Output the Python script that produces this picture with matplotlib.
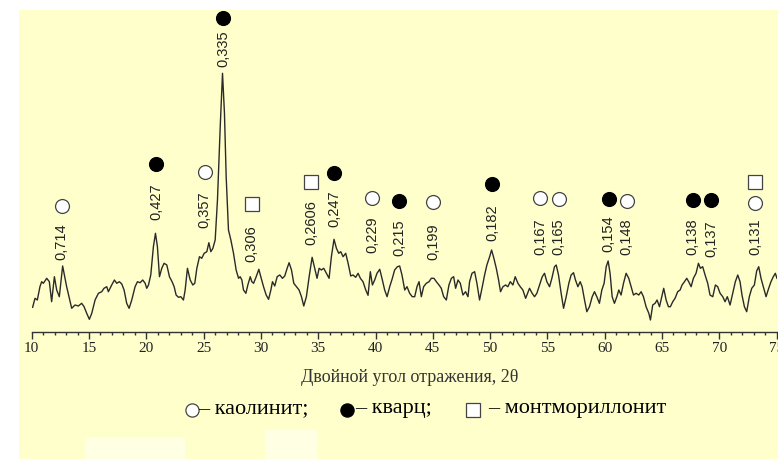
import matplotlib.pyplot as plt
import matplotlib.ticker as tik
from matplotlib.patches import Rectangle
from matplotlib.lines import Line2D

#### data: diffractogram (2theta, relative intensity)
two_theta = [10.08, 10.29, 10.49, 10.72, 10.87, 11.02, 11.31, 11.54, 11.74, 11.98,
             12.18, 12.41, 12.70, 13.05, 13.49, 13.78, 14.07, 14.36, 14.57, 14.80,
             15.03, 15.24, 15.53, 15.82, 16.11, 16.31, 16.55, 16.69, 16.98, 17.22,
             17.42, 17.65, 17.86, 18.06, 18.29, 18.50, 18.73, 19.02, 19.23, 19.46,
             19.69, 19.90, 20.04, 20.19, 20.39, 20.62, 20.80, 20.97, 21.15, 21.35,
             21.55, 21.79, 22.02, 22.25, 22.43, 22.60, 22.81, 23.01, 23.24, 23.39,
             23.59, 23.83, 24.06, 24.23, 24.41, 24.64, 24.84, 25.05, 25.28, 25.46,
             25.63, 25.81, 26.01, 26.21, 26.45, 26.65, 26.82, 26.97, 27.17, 27.38,
             27.61, 27.84, 28.05, 28.19, 28.34, 28.48, 28.69, 28.86, 29.07, 29.21,
             29.36, 29.59, 29.82, 29.99, 30.23, 30.46, 30.67, 30.87,
             31.01, 31.21, 31.42, 31.65, 31.88, 32.08, 32.29, 32.46, 32.67, 32.87,
             33.10, 33.33, 33.54, 33.74, 33.97, 34.21, 34.47, 34.70, 34.90, 35.08,
             35.28, 35.48, 35.72, 35.95, 36.15, 36.38, 36.59, 36.79, 36.97, 37.17,
             37.40, 37.61, 37.84, 38.04, 38.27, 38.48, 38.68, 38.91, 39.15, 39.35,
             39.55, 39.73, 39.93, 40.13, 40.37, 40.60, 40.80, 41.01, 41.24, 41.47,
             41.67, 41.91, 42.11, 42.31, 42.55, 42.75, 42.98, 43.21, 43.42, 43.62,
             43.80, 44.00, 44.20, 44.43, 44.67, 44.87, 45.10, 45.31, 45.54, 45.74,
             45.95, 46.18, 46.41, 46.62, 46.82, 46.99, 47.20, 47.40, 47.63, 47.86,
             48.07, 48.21, 48.42, 48.65, 48.85, 49.08, 49.32, 49.52, 49.72, 49.96,
             50.13, 50.33, 50.54, 50.74, 50.91, 51.12, 51.35, 51.55, 51.76, 51.99,
             52.19, 52.43, 52.63, 52.86, 53.10,
             53.44, 53.67, 53.88, 54.08, 54.31, 54.55, 54.75, 54.95, 55.19, 55.39,
             55.62, 55.77, 55.97, 56.20, 56.41, 56.64, 56.87, 57.07, 57.28, 57.45,
             57.66, 57.86, 58.03, 58.24, 58.44, 58.67, 58.91, 59.11, 59.31, 59.54,
             59.75, 59.95, 60.13, 60.30, 60.47, 60.65, 60.85, 61.06, 61.23, 61.43,
             61.64, 61.87, 62.10, 62.31, 62.51, 62.74, 62.97, 63.18, 63.38, 63.61,
             63.85, 63.99, 64.19, 64.40, 64.57, 64.78, 64.98, 65.15, 65.36, 65.56,
             65.73, 65.94, 66.14, 66.37, 66.58, 66.75, 66.96, 67.16, 67.33, 67.54,
             67.74, 67.97, 68.18, 68.35, 68.55, 68.76, 68.99, 69.19, 69.43, 69.66,
             69.86, 70.07, 70.30, 70.50, 70.70, 70.94, 71.17, 71.40, 71.61, 71.81,
             71.98, 72.19, 72.39, 72.62, 72.83, 73.06, 73.26, 73.44, 73.64, 73.84,
             74.08, 74.31, 74.51, 74.71, 74.89, 75.03]
intensity = [24.7, 33.7, 32, 45.3, 50.3, 48.7, 53.7, 50.3, 30.3, 55.3,
             42, 35.3, 66, 45.3, 23.7, 27, 26, 28.7, 25.3, 18.7,
             12.7, 18.7, 32, 38.7, 40.3, 43.7, 45.3, 40.3, 47, 52,
             48.7, 50.3, 48, 42, 28.7, 23.7, 32, 45.3, 50.3, 49.3,
             52, 48.7, 43.7, 47, 57, 85.3, 98.7, 85.3, 55.3, 63.7,
             68.7, 67, 55.3, 50.3, 45.3, 37, 34.7, 35.3, 32, 42,
             63.7, 52, 47, 48.7, 63.7, 75.3, 73.7, 78.7, 80.3, 89.3,
             80.3, 83.7, 92, 132, 205.3, 258.7, 218.7, 155.3, 102, 92,
             78.7, 62, 53.7, 55.3, 52, 42, 38.7, 47, 55.3, 50.3,
             48.7, 55.3, 62.7, 55.3, 45.3, 37, 32.7, 42,
             50.3, 46, 55.3, 57, 53.7, 56, 63.7, 69.3, 62, 48.7,
             45.3, 42, 35.3, 26, 35.3, 55.3, 74.7, 63.7, 53.7, 63.7,
             62, 63.7, 58.7, 53.7, 75.3, 92.7, 83.7, 78.7, 80.3, 75.3,
             78.7, 68.7, 56, 57, 54.7, 58.7, 53.7, 50.3, 42, 36.7,
             60.3, 47, 52, 58.7, 62.7, 52, 42, 35.3, 45.3, 53.7,
             62, 65.3, 66, 57, 42, 45.3, 38.7, 35.3, 35.3, 45.3,
             50.3, 35.3, 45.3, 48.7, 50.3, 53.7, 53.7, 50.3, 47, 43.7,
             35.3, 32, 47, 53.7, 55.3, 43.7, 52, 48.7, 37, 40.3,
             35.3, 50.3, 58.7, 60.3, 48.7, 32, 45.3, 57, 67, 75.3,
             82, 73.7, 63.7, 52, 40.3, 45.3, 47, 45.3, 50.3, 47,
             55.3, 48.7, 45.3, 42, 33.7,
             43.7, 38.7, 35.3, 38.7, 47, 55.3, 58.7, 50.3, 45.3, 53.7,
             65.3, 67, 57, 38.7, 23.7, 35.3, 48.7, 57, 59.3, 52,
             45.3, 50.3, 45.3, 32, 20.3, 25.3, 35.3, 40.3, 35.3, 28.7,
             42, 48.7, 65.3, 71, 58.7, 35.3, 28.7, 35.3, 42, 37,
             48.7, 58.7, 53.7, 45.3, 37, 38.7, 37, 40.3, 35.3, 25.3,
             18.7, 12, 27, 28.7, 32, 25.3, 35.3, 43.7, 32, 25.3,
             25.3, 30.3, 33.7, 40.3, 42, 47, 50.3, 53.7, 50.3, 45.3,
             53.7, 58.7, 68.7, 63.7, 65.3, 57, 48.7, 37, 35.3, 47,
             45.3, 38.7, 35.3, 30.3, 35.3, 27, 38.7, 50.3, 57, 50.3,
             37, 25.3, 20.3, 35.3, 43.7, 47, 61, 65.3, 53.7, 45.3,
             35.3, 43.7, 50.3, 55.3, 58.7, 53.7]

# peaks: d-spacing labels (nm), position, phase (k - kaolinite, q - quartz, m - montmorillonite)
peak_labels = ['0,714', '0,427', '0,357', '0,335', '0,306', '0,2606', '0,247', '0,229', '0,215',
               '0,199', '0,182', '0,167', '0,165', '0,154', '0,148', '0,138', '0,137', '0,131']
peak_pos = [12.62, 20.84, 25.11, 26.70, 29.18, 34.41, 36.38, 39.70, 42.05,
            45.01, 50.19, 54.38, 56.00, 60.36, 61.93, 67.68, 69.29, 73.15]
peak_phase = ['k', 'q', 'k', 'q', 'm', 'm', 'q', 'k', 'q',
              'k', 'q', 'k', 'k', 'q', 'k', 'q', 'q', 'k']
label_y = [72, 112, 104, 265, 70, 87, 105, 79, 76, 72, 91, 77, 77, 80, 77, 77, 75, 77]
marker_y = [126, 168, 160.3, 313.7, 128, 149.7, 159.3, 134.3, 131.3,
            130.3, 148, 134.3, 132.7, 132.7, 131.3, 132, 132, 128.7]
# second phase marked at 0,131 (montmorillonite)
extra_pos = [73.15]
extra_y = [149.7]
extra_phase = ['m']

legend_names = ['– каолинит;', '– кварц;', '– монтмориллонит']

W, H = 778, 459
fig = plt.figure(figsize=(W / 100, H / 100), dpi=100)
fig.patch.set_facecolor('white')
fig.add_artist(Rectangle((19.3 / W, 0), 1 - 19.3 / W, 1 - 10 / H, transform=fig.transFigure,
                         facecolor='#FFFFCC', edgecolor='none', zorder=0))
# pale patches near the bottom of the scan
fig.add_artist(Rectangle((85 / W, 0), 100 / W, 22 / H, transform=fig.transFigure,
                         facecolor='#FFFFE4', edgecolor='none', zorder=0))
fig.add_artist(Rectangle((265 / W, 0), 52 / W, 29 / H, transform=fig.transFigure,
                         facecolor='#FFFFE4', edgecolor='none', zorder=0))

ax = fig.add_axes([31.7 / W, 1 - 332 / H, (776.6 - 31.7) / W, 322 / H])
ax.set_facecolor('none')
ax.set_xlim(10, 75)
ax.set_ylim(0, 322)

ax.plot(two_theta, intensity, color='#2a2a2a', linewidth=1.0, zorder=3)

styles = {
    'k': dict(marker='o', markersize=10, markerfacecolor='white', markeredgecolor='#444444', markeredgewidth=0.9),
    'q': dict(marker='o', markersize=10, markerfacecolor='black', markeredgecolor='black', markeredgewidth=0.9),
    'm': dict(marker='s', markersize=10.5, markerfacecolor='white', markeredgecolor='#444444', markeredgewidth=0.9),
}

for lab, x, ph, ly, my in zip(peak_labels, peak_pos, peak_phase, label_y, marker_y):
    ax.plot([x], [my], linestyle='none', clip_on=False, zorder=4, **styles[ph])
    ax.text(x, ly, lab, rotation=90, ha='center', va='bottom', fontsize=10.5,
            family='Liberation Sans', color='#222222')
for x, my, ph in zip(extra_pos, extra_y, extra_phase):
    ax.plot([x], [my], linestyle='none', clip_on=False, zorder=4, **styles[ph])

# axis look
for s in ['left', 'right', 'top']:
    ax.spines[s].set_visible(False)
ax.spines['bottom'].set_color('#333333')
ax.spines['bottom'].set_linewidth(1.0)
ax.set_yticks([])
ax.xaxis.set_major_locator(tik.MultipleLocator(5))
ax.xaxis.set_minor_locator(tik.MultipleLocator(1))
ax.tick_params(axis='x', which='major', length=5, width=1, color='#333333', pad=2, labelsize=11)
ax.tick_params(axis='x', which='minor', length=2, width=1, color='#333333')
for t in ax.get_xticklabels():
    t.set_family('Liberation Serif')
    t.set_color('#222222')

fig.text(409.5 / W, 1 - 377 / H, 'Двойной угол отражения, 2θ', ha='center', va='center',
         fontsize=13, family='Liberation Serif', color='#333333')

# legend line
leg_marker_x = [191.7, 346.7, 473.3]
leg_text_x = [198, 355, 488]
for ph, mx, tx, name in zip(['k', 'q', 'm'], leg_marker_x, leg_text_x, legend_names):
    st = dict(styles[ph])
    st['markersize'] = st['markersize'] * 0.95
    fig.add_artist(Line2D([mx / W], [1 - 410 / H], transform=fig.transFigure, linestyle='none', **st))
    fig.text(tx / W, 1 - 409 / H, name, ha='left', va='center', fontsize=16,
             family='Liberation Serif', color='black')

plt.savefig('out.png', dpi=100)
